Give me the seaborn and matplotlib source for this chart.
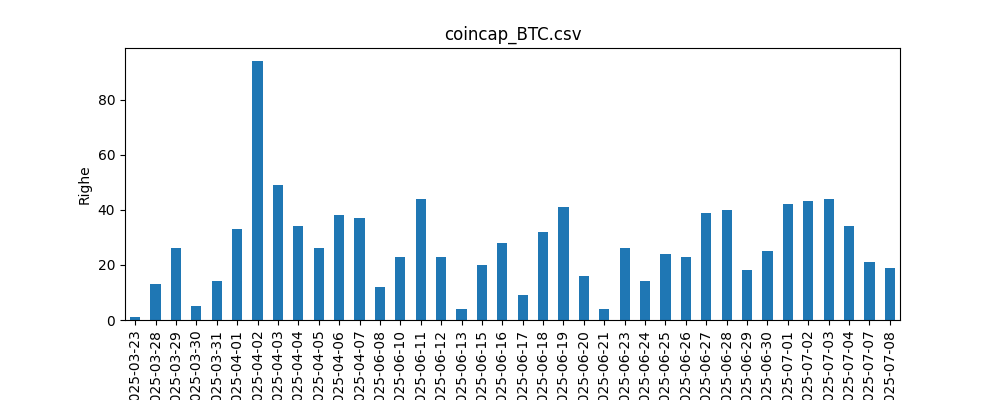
import matplotlib
matplotlib.use("Agg")
import matplotlib.pyplot as plt
import seaborn as sns
import pandas as pd

dates = ["2025-03-23","2025-03-28","2025-03-29","2025-03-30","2025-03-31","2025-04-01","2025-04-02","2025-04-03",
         "2025-04-04","2025-04-05","2025-04-06","2025-04-07","2025-06-08","2025-06-10","2025-06-11","2025-06-12",
         "2025-06-13","2025-06-15","2025-06-16","2025-06-17","2025-06-18","2025-06-19","2025-06-20","2025-06-21",
         "2025-06-23","2025-06-24","2025-06-25","2025-06-26","2025-06-27","2025-06-28","2025-06-29","2025-06-30",
         "2025-07-01","2025-07-02","2025-07-03","2025-07-04","2025-07-07","2025-07-08"]
rows = [1,13,26,5,14,33,94,49,34,26,38,37,12,23,44,23,4,20,28,9,32,41,16,4,26,14,24,23,39,40,18,25,42,43,44,34,21,19]

df = pd.DataFrame({"date": dates, "rows": rows})
fig, ax = plt.subplots(figsize=(10, 4), dpi=100)
fig.subplots_adjust(left=0.125, right=0.9, top=0.88, bottom=0.2)
sns.barplot(data=df, x="date", y="rows", ax=ax, color="#1f77b4", saturation=1, width=0.5)
ax.set_xlabel("")
ax.set_ylabel("Righe")
ax.set_title("coincap_BTC.csv")
ax.tick_params(axis="x", rotation=90)
ax.set_xlim(-0.5, len(dates) - 0.5)
fig.savefig("out.png")
